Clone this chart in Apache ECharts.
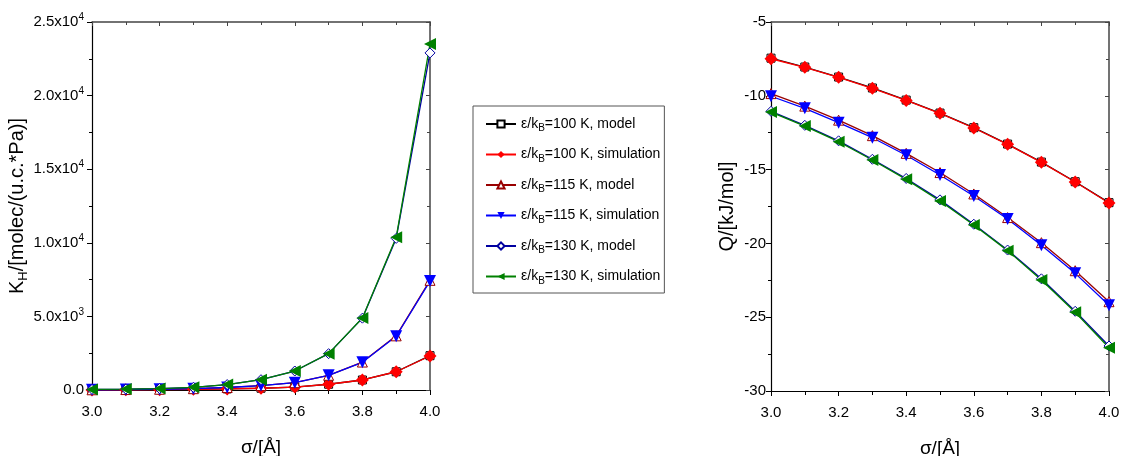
<!DOCTYPE html>
<html>
<head>
<meta charset="utf-8">
<script src="https://cdn.jsdelivr.net/npm/echarts@6/dist/echarts.min.js"></script>
<style>
html, body { margin: 0; padding: 0; background: #fff; }
#main { width: 1122px; height: 456px; }
</style>
</head>
<body>
<div id="main"></div>
<script>
// sigma values (x axis, both panels)
var sigma = [3.0, 3.1, 3.2, 3.3, 3.4, 3.5, 3.6, 3.7, 3.8, 3.9, 4.0];

// legend / series names
var seriesNames = [
	'e100 model', 'e100 simulation',
	'e115 model', 'e115 simulation',
	'e130 model', 'e130 simulation'
];
var legendTemp = ['100', '100', '115', '115', '130', '130'];
var legendKind = ['model', 'simulation', 'model', 'simulation', 'model', 'simulation'];

// left panel: Henry constant K_H
var kh100Model = [8, 15, 25, 45, 75, 120, 200, 390, 680, 1240, 2330];
var kh100Sim = [8, 15, 25, 45, 75, 120, 200, 390, 680, 1240, 2310];
var kh115Model = [15, 30, 50, 90, 170, 300, 500, 1000, 1900, 3680, 7450];
var kh115Sim = [15, 30, 50, 90, 170, 300, 500, 1000, 1880, 3650, 7400];
var kh130Model = [40, 60, 100, 180, 370, 700, 1290, 2470, 4880, 10300, 22900];
var kh130Sim = [40, 60, 100, 180, 370, 700, 1290, 2470, 4890, 10370, 23500];

// right panel: isosteric heat Q
var q100Model = [-7.45, -8.05, -8.73, -9.47, -10.29, -11.17, -12.16, -13.27, -14.49, -15.82, -17.24];
var q100Sim = [-7.49, -8.07, -8.75, -9.49, -10.31, -11.19, -12.18, -13.29, -14.51, -15.84, -17.26];
var q115Model = [-9.85, -10.7, -11.65, -12.7, -13.9, -15.2, -16.65, -18.25, -19.95, -21.85, -23.95];
var q115Sim = [-10.03, -10.85, -11.82, -12.84, -14.03, -15.37, -16.79, -18.35, -20.13, -22.03, -24.19];
var q130Model = [-11.05, -12.0, -13.05, -14.3, -15.6, -17.05, -18.7, -20.45, -22.4, -24.6, -26.95];
var q130Sim = [-11.1, -12.05, -13.11, -14.35, -15.66, -17.13, -18.75, -20.49, -22.48, -24.67, -27.07];

// tick labels of the K_H axis
var khTickValues = [0, 5000, 10000, 15000, 20000, 25000];
var khTickMant = ['0.0', '5.0x10', '1.0x10', '1.5x10', '2.0x10', '2.5x10'];
var khTickExp = ['', '3', '4', '4', '4', '4'];

var FONT = "'Liberation Sans', Arial, sans-serif";

function pairs(ys) {
	var out = [];
	for (var i = 0; i < sigma.length; i++) {
		out.push([sigma[i], ys[i]]);
	}
	return out;
}

// look of each series: colour, symbol, rotation, filled or open, size
var looks = [
	{ color: '#000000', symbol: 'rect', rotate: 0, filled: false, size: 8 },
	{ color: '#ff0000', symbol: 'diamond', rotate: 0, filled: true, size: 13 },
	{ color: '#990000', symbol: 'triangle', rotate: 0, filled: false, size: 10 },
	{ color: '#0000ff', symbol: 'triangle', rotate: 180, filled: true, size: 12 },
	{ color: '#0000a0', symbol: 'diamond', rotate: 0, filled: false, size: 10 },
	{ color: '#008000', symbol: 'triangle', rotate: 90, filled: true, size: 12 }
];

function makeSeries(idx, data, axisIdx) {
	var lk = looks[idx];
	return {
		name: seriesNames[idx],
		type: 'line',
		xAxisIndex: axisIdx,
		yAxisIndex: axisIdx,
		data: pairs(data),
		symbol: lk.symbol,
		symbolRotate: lk.rotate,
		symbolSize: lk.size,
		showAllSymbol: true,
		clip: false,
		lineStyle: { color: lk.color, width: 1.3 },
		itemStyle: {
			color: lk.filled ? lk.color : '#ffffff',
			borderColor: lk.color,
			borderWidth: lk.filled ? 0 : 1
		},
		emphasis: { disabled: true },
		animation: false
	};
}

var khData = [kh100Model, kh100Sim, kh115Model, kh115Sim, kh130Model, kh130Sim];
var qData = [q100Model, q100Sim, q115Model, q115Sim, q130Model, q130Sim];

var series = [];
for (var i = 0; i < 6; i++) {
	series.push(makeSeries(i, khData[i], 0));
}
for (var i = 0; i < 6; i++) {
	series.push(makeSeries(i, qData[i], 2));
}

// shared axis bits
var labelText = { color: '#000', fontFamily: FONT, fontSize: 15 };

function bottomX(grid) {
	return {
		type: 'value', gridIndex: grid, position: 'bottom',
		min: 3.0, max: 4.0, interval: 0.2,
		name: 'σ/[Å]', nameLocation: 'middle', nameGap: 48,
		nameTextStyle: { color: '#000', fontFamily: FONT, fontSize: 19 },
		axisLine: { show: true, onZero: false, lineStyle: { color: '#000', width: 1.2 } },
		axisTick: { show: true, inside: false, length: 5, lineStyle: { color: '#000' } },
		minorTick: { show: true, splitNumber: 2, length: 4, lineStyle: { color: '#000' } },
		splitLine: { show: false },
		axisLabel: Object.assign({
			margin: 14,
			formatter: function(v) { return v.toFixed(1); }
		}, labelText)
	};
}
function topX(grid) {
	return {
		type: 'value', gridIndex: grid, position: 'top',
		min: 3.0, max: 4.0, interval: 0.2,
		axisLine: { show: true, onZero: false, lineStyle: { color: '#444', width: 1.5 } },
		axisTick: { show: true, inside: true, length: 4, lineStyle: { color: '#444' } },
		minorTick: { show: true, splitNumber: 2, length: 3, lineStyle: { color: '#444' } },
		splitLine: { show: false },
		axisLabel: { show: false }
	};
}
function rightY(grid, min, max, interval) {
	return {
		type: 'value', gridIndex: grid, position: 'right',
		min: min, max: max, interval: interval,
		axisLine: { show: true, onZero: false, lineStyle: { color: '#444', width: 1.5 } },
		axisTick: { show: true, inside: true, length: 4, lineStyle: { color: '#444' } },
		minorTick: { show: true, splitNumber: 2, length: 3, lineStyle: { color: '#444' } },
		splitLine: { show: false },
		axisLabel: { show: false }
	};
}

var option = {
	backgroundColor: '#fff',
	animation: false,
	grid: [
		{ left: 92, top: 22, width: 338, height: 368, outerBoundsMode: 'none' },
		{ left: 771, top: 22, width: 338, height: 369, outerBoundsMode: 'none' }
	],
	legend: {
		orient: 'vertical',
		left: 473,
		top: 106,
		padding: [11, 4, 7, 12],
		borderColor: '#555',
		borderWidth: 1,
		itemWidth: 30,
		itemHeight: 9,
		itemGap: 14,
		data: seriesNames,
		formatter: function(name) {
			var k = seriesNames.indexOf(name);
			return '{t|ε/k}{s|B}{t|=' + legendTemp[k] + ' K, ' + legendKind[k] + '}';
		},
		textStyle: {
			color: '#000',
			fontFamily: FONT,
			fontSize: 14,
			rich: {
				t: { fontFamily: FONT, fontSize: 14, color: '#000', lineHeight: 20 },
				s: { fontFamily: FONT, fontSize: 10, color: '#000', padding: [9, 0, 0, 0] }
			}
		}
	},
	xAxis: [bottomX(0), topX(0), bottomX(1), topX(1)],
	yAxis: [
		{
			type: 'value', gridIndex: 0, position: 'left',
			min: 0, max: 25000, interval: 5000,
			name: '{t|K}{s|H}{t|/[molec/(u.c.*Pa)]}',
			nameLocation: 'middle', nameGap: 58, nameRotate: 90,
			nameTextStyle: {
				color: '#000', fontFamily: FONT, fontSize: 20,
				rich: {
					t: { fontFamily: FONT, fontSize: 20, color: '#000' },
					s: { fontFamily: FONT, fontSize: 13, color: '#000', padding: [11, 0, 0, 0] }
				}
			},
			axisLine: { show: true, onZero: false, lineStyle: { color: '#000', width: 1.2 } },
			axisTick: { show: true, inside: false, length: 5, lineStyle: { color: '#000' } },
			minorTick: { show: true, splitNumber: 2, length: 3, lineStyle: { color: '#000' } },
			splitLine: { show: false },
			axisLabel: {
				margin: 8,
				color: '#000', fontFamily: FONT, fontSize: 15,
				formatter: function(v) {
					var k = khTickValues.indexOf(v);
					if (k < 0) return '';
					if (!khTickExp[k]) return '{m|' + khTickMant[k] + '}';
					return '{m|' + khTickMant[k] + '}{e|' + khTickExp[k] + '}';
				},
				rich: {
					m: { fontFamily: FONT, fontSize: 15, color: '#000' },
					e: { fontFamily: FONT, fontSize: 10, color: '#000', padding: [0, 0, 9, 0] }
				}
			}
		},
		rightY(0, 0, 25000, 5000),
		{
			type: 'value', gridIndex: 1, position: 'left',
			min: -30, max: -5, interval: 5,
			name: 'Q/[kJ/mol]',
			nameLocation: 'middle', nameGap: 34, nameRotate: 90,
			nameTextStyle: { color: '#000', fontFamily: FONT, fontSize: 20 },
			axisLine: { show: true, onZero: false, lineStyle: { color: '#000', width: 1.2 } },
			axisTick: { show: true, inside: false, length: 5, lineStyle: { color: '#000' } },
			minorTick: { show: true, splitNumber: 2, length: 3, lineStyle: { color: '#000' } },
			splitLine: { show: false },
			axisLabel: Object.assign({ margin: 5 }, labelText)
		},
		rightY(1, -30, -5, 5)
	],
	series: series
};

var myChart = echarts.init(document.getElementById('main'), null, { renderer: 'canvas' });
myChart.setOption(option);
</script>
</body>
</html>
